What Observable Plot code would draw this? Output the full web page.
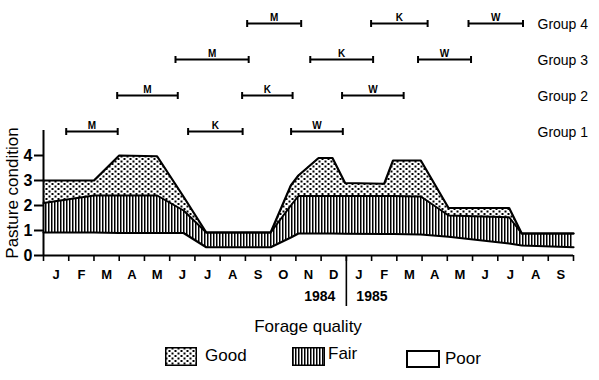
<!DOCTYPE html>
<html>
<head>
<meta charset="utf-8">
<script src="https://cdn.jsdelivr.net/npm/d3@7"></script>
<script src="https://cdn.jsdelivr.net/npm/@observablehq/plot@0.6"></script>
<style>
  html, body { margin: 0; padding: 0; background: white; }
  body { font-family: "Liberation Sans", Arial, sans-serif; color: black; }
  #wrap { position: relative; width: 599px; height: 380px; overflow: hidden; }
  #wrap > .layer { position: absolute; left: 0; top: 0; }
  .abs { position: absolute; }
  .lbl { font-size: 17px; line-height: 20px; white-space: nowrap; }
</style>
</head>
<body>
<svg width="0" height="0" style="position:absolute">
  <defs>
    <pattern id="dots" width="6" height="5" patternUnits="userSpaceOnUse">
      <rect width="6" height="5" fill="white"/>
      <rect x="0.5" y="0.5" width="2" height="2" fill="black"/>
      <rect x="3.5" y="3" width="2" height="2" fill="black"/>
    </pattern>
    <pattern id="stripes" width="3" height="4" patternUnits="userSpaceOnUse">
      <rect width="3" height="4" fill="white"/>
      <rect width="1.5" height="4" fill="black"/>
    </pattern>
  </defs>
</svg>
<div id="wrap">
  <div id="mainLayer" class="layer"></div>
  <div id="topLayer" class="layer"></div>
  <div class="abs lbl" id="xtitle" style="left:208px; top:317px; width:200px; text-align:center;"></div>
  <div id="legend"></div>
</div>
<script>
// ---- data: pasture condition boundaries (months from Jan 1984) ----
const months    = [0, 1, 2, 3, 4.5, 5.55, 6.45, 9, 9.8, 10.1, 10.9, 11.45, 11.95, 13.5, 13.85, 14.95, 16.05, 18.45, 18.95, 21];
const goodUpper = [3.0, 3.0, 3.0, 4.0, 3.97, 2.35, 0.92, 0.92, 2.8, 3.2, 3.9, 3.9, 2.9, 2.87, 3.8, 3.8, 1.9, 1.9, 0.88, 0.88];
const fairUpper = [2.1, 2.25, 2.4, 2.4, 2.4, 1.8, 0.92, 0.92, 2.0, 2.38, 2.38, 2.38, 2.38, 2.38, 2.38, 2.36, 1.6, 1.53, 0.88, 0.88];
const poorUpper = [0.92, 0.92, 0.92, 0.9, 0.9, 0.9, 0.33, 0.33, 0.72, 0.88, 0.88, 0.88, 0.87, 0.86, 0.86, 0.84, 0.75, 0.48, 0.4, 0.33];

// ---- data: grazing periods per group ----
const groups      = ["Group 1", "Group 2", "Group 3", "Group 4"];
const periodGroup = ["Group 1", "Group 1", "Group 1", "Group 2", "Group 2", "Group 2", "Group 3", "Group 3", "Group 3", "Group 4", "Group 4", "Group 4"];
const periodCode  = ["M", "K", "W", "M", "K", "W", "M", "K", "W", "M", "K", "W"];
const periodStart = [0.90, 5.73, 9.81, 2.92, 7.87, 11.83, 5.23, 10.57, 14.84, 8.07, 12.98, 16.84];
const periodEnd   = [2.94, 7.89, 11.86, 5.32, 9.87, 14.27, 8.13, 13.06, 16.94, 10.21, 15.22, 19.0];

// ---- axis labels ----
const monthLetters = ["J","F","M","A","M","J","J","A","S","O","N","D","J","F","M","A","M","J","J","A","S"];
const monthStarts  = d3.range(0, monthLetters.length + 1);
const monthMids    = d3.range(0, monthLetters.length).map(i => i + 0.5);
const yearBreak    = 12;
const years        = ["1984", "1985"];
const yTicks       = [0, 1, 2, 3, 4];
const yLabel       = "Pasture condition";
const xTitle       = "Forage quality";
const legendNames  = ["Good", "Fair", "Poor"];

const rows = months.map((m, i) => ({m, good: goodUpper[i], fair: fairUpper[i], poor: poorUpper[i]}));
const periods = periodGroup.map((g, i) => ({group: g, code: periodCode[i], start: periodStart[i], end: periodEnd[i]}));

const font = "'Liberation Sans', Arial, Helvetica, sans-serif";
const baseStyle = {fontFamily: font, background: "transparent", overflow: "visible", color: "black"};

const mainPlot = Plot.plot({
  width: 599, height: 310,
  marginLeft: 43, marginRight: 26, marginTop: 130, marginBottom: 55,
  x: {domain: [0, 21], axis: null, label: null},
  y: {domain: [0, 5], axis: null, label: null},
  style: baseStyle,
  marks: [
    Plot.areaY(rows, {x: "m", y1: 0, y2: "poor", fill: "white"}),
    Plot.areaY(rows, {x: "m", y1: "poor", y2: "fair", fill: "url(#stripes)"}),
    Plot.areaY(rows, {x: "m", y1: "fair", y2: "good", fill: "url(#dots)"}),
    Plot.lineY(rows, {x: "m", y: "poor", strokeWidth: 2.2}),
    Plot.lineY(rows, {x: "m", y: "fair", strokeWidth: 2}),
    Plot.lineY(rows, {x: "m", y: "good", strokeWidth: 2.2}),
    Plot.ruleX([0], {strokeWidth: 2}),
    Plot.ruleY([0], {strokeWidth: 2}),
    Plot.axisY({ticks: yTicks, tickSize: 9, tickPadding: 2, tickFormat: d => String(d), fontSize: 16, fontWeight: "bold", label: null, strokeWidth: 2}),
    Plot.axisX({ticks: monthStarts, tickSize: 6, tickFormat: () => "", label: null, strokeWidth: 1.6}),
    Plot.axisX({ticks: monthMids, tickSize: 0, tickPadding: 14, tickFormat: d => monthLetters[Math.floor(d)], fontSize: 13, fontWeight: "bold", label: null}),
    Plot.axisX({ticks: [yearBreak], tickSize: 51, tickFormat: () => "", label: null, strokeWidth: 1.6}),
    Plot.text([years[0]], {x: yearBreak, frameAnchor: "bottom", textAnchor: "end", dx: -11, dy: 45, fontSize: 14, fontWeight: "bold"}),
    Plot.text([years[1]], {x: yearBreak, frameAnchor: "bottom", textAnchor: "start", dx: 10, dy: 45, fontSize: 14, fontWeight: "bold"}),
    Plot.text([yLabel], {frameAnchor: "left", textAnchor: "middle", lineAnchor: "middle", rotate: -90, dx: -31, fontSize: 17})
  ]
});
document.getElementById("mainLayer").append(mainPlot);

const capSymbol = {
  draw(context, size) {
    const h = Math.sqrt(size / Math.PI);
    context.moveTo(0, -h);
    context.lineTo(0, h);
  }
};

const topPlot = Plot.plot({
  width: 599, height: 150,
  marginLeft: 43, marginRight: 26, marginTop: 3, marginBottom: 0,
  x: {domain: [0, 21], axis: null, label: null},
  y: {type: "point", domain: groups.slice().reverse(), axis: null, label: null},
  style: baseStyle,
  marks: [
    Plot.ruleY(periods, {y: "group", x1: "start", x2: "end", strokeWidth: 2.2}),
    Plot.dot(periods, {x: "start", y: "group", symbol: capSymbol, r: 3.5, fill: "none", stroke: "black", strokeWidth: 2}),
    Plot.dot(periods, {x: "end", y: "group", symbol: capSymbol, r: 3.5, fill: "none", stroke: "black", strokeWidth: 2}),
    Plot.text(periods, {x: d => (d.start + d.end) / 2, y: "group", text: "code", dy: -6, fontSize: 10, fontWeight: "bold"}),
    Plot.text(groups, {y: d => d, text: d => d, frameAnchor: "right", textAnchor: "start", dx: -36, dy: 1, fontSize: 14})
  ]
});
document.getElementById("topLayer").append(topPlot);

document.getElementById("xtitle").textContent = xTitle;

// legend
const legend = document.getElementById("legend");
const items = [
  {name: legendNames[0], fill: "url(#dots)", sx: 165, sy: 347, sw: 32, sh: 19, tx: 205, ty: 346, sw2: 1.5},
  {name: legendNames[1], fill: "url(#stripes)", sx: 292, sy: 347, sw: 33, sh: 19, tx: 328, ty: 344, sw2: 1.5},
  {name: legendNames[2], fill: "white", sx: 406, sy: 350, sw: 34, sh: 18, tx: 445, ty: 349, sw2: 2}
];
for (const it of items) {
  const s = d3.create("svg").attr("class", "abs").attr("width", it.sw).attr("height", it.sh)
    .style("left", it.sx + "px").style("top", it.sy + "px");
  s.append("rect").attr("x", it.sw2 / 2).attr("y", it.sw2 / 2)
    .attr("width", it.sw - it.sw2).attr("height", it.sh - it.sw2)
    .attr("fill", it.fill).attr("stroke", "black").attr("stroke-width", it.sw2);
  legend.append(s.node());
  const t = document.createElement("div");
  t.className = "abs lbl";
  t.style.left = it.tx + "px";
  t.style.top = it.ty + "px";
  t.textContent = it.name;
  legend.append(t);
}
</script>
</body>
</html>
